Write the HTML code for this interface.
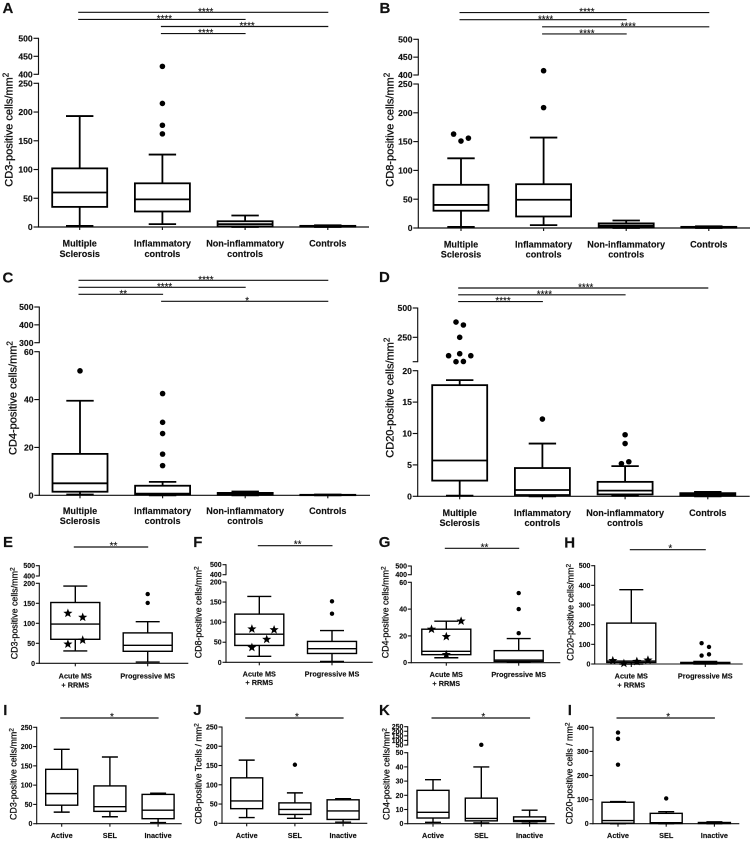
<!DOCTYPE html>
<html lang="en">
<head>
<meta charset="utf-8">
<title>Immune cell counts by diagnosis</title>
<style>
html,body{margin:0;padding:0;background:#fff;width:754px;height:841px;overflow:hidden}
svg{display:block;filter:blur(.3px);font-family:"Liberation Sans",Arial,sans-serif}
svg text{stroke:#111;stroke-width:.14}
.letter{font-size:15px;font-weight:bold;fill:#111}
.ytl{font-size:11px;fill:#111;stroke:#111;stroke-width:.32}
.yts{font-size:8.9px;fill:#111;stroke:#111;stroke-width:.28}
</style>
</head>
<body>
<svg id="figure" width="754" height="841" viewBox="0 0 754 841" xmlns="http://www.w3.org/2000/svg">
<g id="panel-a">
<text class="letter" x="2.5" y="12.9">A</text>
<text class="ytl" transform="translate(12.7,186.7) rotate(-90)">CD3-positive cells/mm<tspan dy="-4" font-size="8">2</tspan></text>
</g>
<g id="panel-b">
<text class="letter" x="379.5" y="12.9">B</text>
<text class="ytl" transform="translate(393.7,186.7) rotate(-90)">CD8-positive cells/mm<tspan dy="-4" font-size="8">2</tspan></text>
</g>
<g id="panel-c">
<text class="letter" x="2.5" y="282.5">C</text>
<text class="ytl" transform="translate(16.7,455) rotate(-90)">CD4-positive cells/mm<tspan dy="-4" font-size="8">2</tspan></text>
</g>
<g id="panel-d">
<text class="letter" x="379" y="281.9">D</text>
<text class="ytl" transform="translate(393.7,457.7) rotate(-90)">CD20-positive cells/mm<tspan dy="-4" font-size="8">2</tspan></text>
</g>
<g id="panel-e">
<text class="letter" x="3" y="546.9">E</text>
<text class="yts" transform="translate(17.3,659.3) rotate(-90)">CD3-positive cells/mm<tspan dy="-3" font-size="6.5">2</tspan></text>
</g>
<g id="panel-f">
<text class="letter" x="193.3" y="546.9">F</text>
<text class="yts" transform="translate(201.7,658.3) rotate(-90)">CD8-positive cells/mm<tspan dy="-3" font-size="6.5">2</tspan></text>
</g>
<g id="panel-g">
<text class="letter" x="378.7" y="546.9">G</text>
<text class="yts" transform="translate(388.7,658.3) rotate(-90)">CD4-positive cells/mm<tspan dy="-3" font-size="6.5">2</tspan></text>
</g>
<g id="panel-h">
<text class="letter" x="564.3" y="547.5">H</text>
<text class="yts" transform="translate(573.7,660.7) rotate(-90)">CD20-positive cells/mm<tspan dy="-3" font-size="6.5">2</tspan></text>
</g>
<g id="panel-i">
<text class="letter" x="3.3" y="714.9">I</text>
<text class="yts" transform="translate(16.7,820) rotate(-90)">CD3-positive cells/mm<tspan dy="-3" font-size="6.5">2</tspan></text>
</g>
<g id="panel-j">
<text class="letter" x="193.3" y="714.9">J</text>
<text class="yts" transform="translate(201.7,824.3) rotate(-90)">CD8-positive Tcells / mm<tspan dy="-3" font-size="6.5">2</tspan></text>
</g>
<g id="panel-k">
<text class="letter" x="379" y="714.9">K</text>
<text class="yts" transform="translate(389.3,820) rotate(-90)">CD4-positive cells/mm<tspan dy="-3" font-size="6.5">2</tspan></text>
</g>
<g id="panel-l">
<text class="letter" x="567.7" y="714.9">I</text>
<text class="yts" transform="translate(572.7,824.3) rotate(-90)">CD20-positive cells / mm<tspan dy="-3" font-size="6.5">2</tspan></text>
</g>
</svg>
<script>
// Category labels ("|" is a line break)
const diagnosisCategories = ['Multiple|Sclerosis', 'Inflammatory|controls', 'Non-inflammatory|controls', 'Controls'];
const msTypeCategories = ['Acute MS|+ RRMS', 'Progressive MS'];
const lesionCategories = ['Active', 'SEL', 'Inactive'];

// Panel A. Box stats are [min, q1, median, q3, max]
const aBoxes = [[2, 35, 60, 102, 193], [5, 27, 48, 76, 126], [0, 1, 5, 10, 20], [0, 0.5, 1, 2, 3]];
const aOutliers = [[], [162, 177, 215, 422], [], []];
const aSwarm = [[], [0, 0, 0, 0], [], []];
const aLowerTicks = [0, 50, 100, 150, 200, 250];
const aUpperTicks = [400, 450, 500];
const aSigFrom = [0, 0, 1, 1];
const aSigTo = [3, 2, 3, 2];
const aSigMarks = ['****', '****', '****', '****'];

// Panel B
const bBoxes = [[2, 30, 40, 75, 121], [5, 20, 49, 76, 157], [0, 1, 4, 8, 13], [0, 0.5, 1, 2, 3]];
const bOutliers = [[163, 151, 156], [209, 412], [], []];
const bSwarm = [[-2, 0, 2], [0, 0], [], []];
const bLowerTicks = [0, 50, 100, 150, 200, 250];
const bUpperTicks = [400, 450, 500];
const bSigFrom = [0, 0, 1, 1];
const bSigTo = [3, 2, 3, 2];
const bSigMarks = ['****', '****', '****', '****'];

// Panel C
const cBoxes = [[0.3, 1.5, 5, 17.3, 39.5], [0, 0.3, 0.7, 4, 5.6], [0, 0.2, 0.5, 1, 1.6], [0, 0.05, 0.1, 0.2, 0.3]];
const cOutliers = [[52], [12.4, 17.2, 25.8, 30.5, 42.5], [], []];
const cSwarm = [[0], [0, 0, 0, 0, 0], [], []];
const cLowerTicks = [0, 20, 40, 60];
const cUpperTicks = [300, 400, 500];
const cSigFrom = [0, 0, 0, 1];
const cSigTo = [3, 2, 1, 3];
const cSigMarks = ['****', '****', '**', '*'];

// Panel D
const dBoxes = [[0.1, 2.5, 5.7, 17.7, 18.5], [0, 0.2, 1, 4.5, 8.4], [0.1, 0.3, 0.9, 2.3, 4.8], [0, 0.1, 0.3, 0.5, 0.7]];
const dOutliers = [[380, 355, 250, 110, 93, 93, 42, 44], [12.3], [5.2, 5.5, 8.4, 9.8], []];
const dSwarm = [[-1, 1, 0, 0, -3, 3, -1, 1], [0], [-1, 1, 0, 0], []];
const dLowerTicks = [0, 5, 10, 15, 20];
const dUpperTicks = [42, 250, 500];
const dUpperLabels = ['', '250', '500'];
const dSigFrom = [0, 0, 0];
const dSigTo = [3, 2, 1];
const dSigMarks = ['****', '****', '****'];

// Panel E
const eBoxes = [[31, 60, 98, 152, 193], [3, 30, 45, 76, 104]];
const eOutliers = [[], [151, 173]];
const eSwarm = [[], [0, 0]];
const eStars = [125, 115, 48, 58];
const eStarSwarm = [-2, 2, -2, 2];
const eLowerTicks = [0, 50, 100, 150, 200];
const eUpperTicks = [400, 500];
const eSigMarks = ['**'];

// Panel F
const fBoxes = [[15, 42, 70, 120, 164], [2, 22, 34, 52, 79]];
const fOutliers = [[], [121, 152]];
const fSwarm = [[], [0, 0]];
const fStars = [83, 81, 57, 37];
const fStarSwarm = [-2, 4, 2, -2];
const fLowerTicks = [0, 50, 100, 150, 200];
const fUpperTicks = [400, 500];
const fSigMarks = ['**'];

// Panel G
const gBoxes = [[3.7, 6, 8.5, 25, 31], [0.3, 1, 2, 9, 18]];
const gOutliers = [[], [22, 40, 52]];
const gSwarm = [[], [0, 0, 0]];
const gStars = [25, 31, 19.5, 6];
const gStarSwarm = [-4, 4, 0, 0];
const gLowerTicks = [0, 20, 40, 60];
const gUpperTicks = [400, 500];
const gSigMarks = ['**'];

// Panel H
const hBoxes = [[0, 8, 15, 208, 378], [0, 2, 5, 8, 13]];
const hOutliers = [[], [43, 49, 87, 106]];
const hSwarm = [[], [-1, 1, 1, -1]];
const hStars = [17, 3, 13, 20];
const hStarSwarm = [-5, -2, 1.5, 4.5];
const hLowerTicks = [0, 100, 200, 300, 400, 500];
const hSigMarks = ['*'];

// Panel I
const iBoxes = [[30, 48, 78, 141, 193], [18, 32, 44, 98, 173], [3, 13, 35, 76, 79]];
const iLowerTicks = [0, 50, 100, 150, 200, 250];

// Panel J
const jBoxes = [[15, 38, 58, 118, 164], [13, 23, 36, 53, 79], [3, 10, 32, 61, 64]];
const jOutliers = [[], [152], []];
const jSwarm = [[], [0], []];
const jLowerTicks = [0, 50, 100, 150, 200, 250];

// Panel K
const kBoxes = [[1, 4, 8, 23.5, 31], [0.5, 2, 3.7, 18, 40], [0.3, 1.5, 2.2, 4.8, 9.5]];
const kOutliers = [[], [52], []];
const kSwarm = [[], [0], []];
const kLowerTicks = [0, 10, 20, 30, 40, 50];
const kUpperTicks = [50, 100, 150, 200, 250];

// Panel L (printed as a second "I")
const lBoxes = [[0, 2, 13, 89, 92], [0, 1, 4, 43, 50], [0, 1, 3, 5, 8]];
const lOutliers = [[245, 352, 378], [105], []];
const lSwarm = [[0, 0, 0], [0], []];
const lLowerTicks = [0, 100, 200, 300, 400];

const sharedSingleSig = ['*'];

const SVG_NS = 'http://www.w3.org/2000/svg';
function make(tag, parent, props) {
  const el = document.createElementNS(SVG_NS, tag);
  for (const k in props) el.setAttribute(k, props[k]);
  parent.appendChild(el);
  return el;
}
function slug(s) { return s.toLowerCase().replace(/[^a-z0-9]+/g, '-'); }
function starPoints(cx, cy, r) {
  const pts = [];
  for (let i = 0; i < 10; i++) {
    const a = -Math.PI / 2 + i * Math.PI / 5;
    const rad = i % 2 ? r * 0.42 : r;
    pts.push((cx + rad * Math.cos(a)).toFixed(2) + ',' + (cy + rad * Math.sin(a)).toFixed(2));
  }
  return pts.join(' ');
}

function drawPanel(id, d, L) {
  const root = document.getElementById('panel-' + id);
  const lowMax = Math.max(...d.lower);
  const hasUpper = !!(d.upper && d.upper.length);
  const upMin = hasUpper ? Math.min(...d.upper) : 0;
  const upMax = hasUpper ? Math.max(...d.upper) : 1;
  const yScale = v => {
    if (!hasUpper || v <= lowMax) return L.y0 + (L.yLow - L.y0) * v / lowMax;
    return L.yBreak + (L.yTop - L.yBreak) * (v - upMin) / (upMax - upMin);
  };
  const xScale = i => L.xFirst + i * L.xStep;
  const lineW = L.lw;
  const axisStroke = '#111';

  // y axis: lower and upper segments
  const lowerAxis = make('line', root, {x1: L.ax, x2: L.ax, y1: yScale(0) + .5, y2: yScale(lowMax) - .5, stroke: axisStroke, 'stroke-width': L.axisW});
  
  
  if (hasUpper) {
    const upperAxis = make('line', root, {x1: L.ax, x2: L.ax, y1: L.yBreak + .5, y2: L.yTop - .5, stroke: axisStroke, 'stroke-width': L.axisW});
    
    
  }

  // x axis
  const xAxis = make('line', root, {x1: L.ax - .5, x2: L.xEnd, y1: yScale(0), y2: yScale(0), stroke: axisStroke, 'stroke-width': L.axisW});
  
  

  // y ticks
  const tickSets = [{vals: d.lower, labels: d.lower, up: false}];
  if (hasUpper) tickSets.push({vals: d.upper, labels: d.upperLabels || d.upper, up: true});
  tickSets.forEach(set => {
    set.vals.forEach((v, i) => {
      const y = set.up && v <= lowMax ? L.yBreak : yScale(v);
      const tick = make('line', root, {x1: L.ax - L.tickLen, x2: L.ax, y1: y, y2: y, stroke: axisStroke, 'stroke-width': L.axisW});
      
      
      const label = make('text', root, {x: L.ax - L.tickLen - .8, y: y + L.tickFont * .36, 'text-anchor': 'end', 'font-size': L.tickFont, 'font-weight': 'bold', fill: '#111'});
      label.textContent = set.labels[i];
      
      
    });
  });

  // categories and x ticks
  d.categories.forEach((c, i) => {
    const x = xScale(i);
    const tick = make('line', root, {x1: x, x2: x, y1: yScale(0), y2: yScale(0) + L.xTickLen, stroke: axisStroke, 'stroke-width': L.axisW});
    
    
    c.split('|').forEach((line, j) => {
      const label = make('text', root, {x: x, y: L.catY + j * L.catGap, 'text-anchor': 'middle', 'font-size': L.catFont, 'font-weight': 'bold', fill: '#111'});
      label.textContent = line;
      
      
    });
  });

  // boxes
  d.boxes.forEach((s, i) => {
    const x = xScale(i);
    const name = slug(d.categories[i]);
    const [min, q1, med, q3, max] = s;
    const whisker = make('path', root, {
      d: 'M' + x + ' ' + yScale(q3) + 'V' + yScale(max) + 'M' + (x - L.capHalf) + ' ' + yScale(max) + 'H' + (x + L.capHalf) +
         'M' + x + ' ' + yScale(q1) + 'V' + yScale(min) + 'M' + (x - L.capHalf) + ' ' + yScale(min) + 'H' + (x + L.capHalf),
      fill: 'none', stroke: '#000', 'stroke-width': lineW
    });
    
    
    const box = make('rect', root, {x: x - L.boxHalf, y: yScale(q3), width: L.boxHalf * 2, height: Math.max(0, yScale(q1) - yScale(q3)), fill: '#fff', stroke: '#000', 'stroke-width': lineW});
    
    
    const median = make('line', root, {x1: x - L.boxHalf, x2: x + L.boxHalf, y1: yScale(med), y2: yScale(med), stroke: '#000', 'stroke-width': lineW});
    
    
  });

  // outliers
  (d.outliers || []).forEach((vals, i) => {
    vals.forEach((v, j) => {
      const slot = d.swarm ? d.swarm[i][j] : 0;
      const dot = make('circle', root, {cx: xScale(i) + slot * L.slot, cy: yScale(v), r: L.dot, fill: '#000'});
      
      
    });
  });

  // stars marking the acute MS cases
  (d.stars || []).forEach((v, j) => {
    const star = make('polygon', root, {points: starPoints(xScale(0) + d.starSwarm[j] * L.slot, yScale(v), L.star), fill: '#000'});
    
    
  });

  // significance brackets
  d.sigMarks.forEach((mark, i) => {
    const from = d.sigFrom ? d.sigFrom[i] : 0;
    const to = d.sigTo ? d.sigTo[i] : d.categories.length - 1;
    const y = L.sigTop + i * L.sigGap;
    const bar = make('line', root, {x1: xScale(from) - 1.5, x2: xScale(to) + .5, y1: y, y2: y, stroke: '#111', 'stroke-width': 1.15});
    
    
    const txt = make('text', root, {x: (xScale(from) + xScale(to)) / 2 + 2, y: y + L.sigDy, 'text-anchor': 'middle', 'font-size': L.sigFont, fill: '#111'});
    txt.textContent = mark;
    
    
  });
}

const bigStyle = {lw: 1.8, axisW: 1.15, tickLen: 5, xTickLen: 3, tickFont: 8.6, catFont: 9.1, catGap: 10.2, boxHalf: 27.5, capHalf: 13.7, dot: 2.8, slot: 3.7, star: 4.5, sigGap: 7.1, sigDy: 2.6, sigFont: 9.8};
const midStyle = {lw: 1.4, axisW: 1.1, tickLen: 3.5, xTickLen: 3, tickFont: 7, catFont: 7.3, catGap: 8.8, boxHalf: 24.5, capHalf: 12, dot: 2.2, slot: 3.7, star: 4.8, sigGap: 0, sigDy: 2, sigFont: 10};
const lowStyle = Object.assign({}, midStyle, {boxHalf: 16, capHalf: 8, catFont: 7.3});

drawPanel('a', {categories: diagnosisCategories, boxes: aBoxes, outliers: aOutliers, swarm: aSwarm, lower: aLowerTicks, upper: aUpperTicks, sigFrom: aSigFrom, sigTo: aSigTo, sigMarks: aSigMarks},
  Object.assign({}, bigStyle, {ax: 38.5, y0: 227, yLow: 83.3, yBreak: 74.3, yTop: 38.3, xFirst: 79.7, xStep: 82.7, xEnd: 369, catY: 246.6, sigTop: 12.3}));
drawPanel('b', {categories: diagnosisCategories, boxes: bBoxes, outliers: bOutliers, swarm: bSwarm, lower: bLowerTicks, upper: bUpperTicks, sigFrom: bSigFrom, sigTo: bSigTo, sigMarks: bSigMarks},
  Object.assign({}, bigStyle, {ax: 418.3, y0: 228, yLow: 84, yBreak: 75, yTop: 39.3, xFirst: 461, xStep: 82.6, xEnd: 750, catY: 247.3, sigTop: 12.6}));
drawPanel('c', {categories: diagnosisCategories, boxes: cBoxes, outliers: cOutliers, swarm: cSwarm, lower: cLowerTicks, upper: cUpperTicks, sigFrom: cSigFrom, sigTo: cSigTo, sigMarks: cSigMarks},
  Object.assign({}, bigStyle, {ax: 39.3, y0: 495.3, yLow: 351.7, yBreak: 342.7, yTop: 307, xFirst: 80, xStep: 82.6, xEnd: 370, catY: 513.8, sigTop: 280.3, sigGap: 7}));
drawPanel('d', {categories: diagnosisCategories, boxes: dBoxes, outliers: dOutliers, swarm: dSwarm, lower: dLowerTicks, upper: dUpperTicks, upperLabels: dUpperLabels, sigFrom: dSigFrom, sigTo: dSigTo, sigMarks: dSigMarks},
  Object.assign({}, bigStyle, {ax: 417.7, y0: 496.3, yLow: 370.7, yBreak: 361.7, yTop: 308, xFirst: 459.7, xStep: 82.7, xEnd: 749.7, catY: 516, sigTop: 288, sigGap: 6.8}));

drawPanel('e', {categories: msTypeCategories, boxes: eBoxes, outliers: eOutliers, swarm: eSwarm, stars: eStars, starSwarm: eStarSwarm, lower: eLowerTicks, upper: eUpperTicks, sigMarks: eSigMarks},
  Object.assign({}, midStyle, {ax: 39.3, y0: 663.3, yLow: 583.3, yBreak: 576, yTop: 565.7, xFirst: 75.3, xStep: 72.4, xEnd: 188.3, catY: 678.5, sigTop: 547}));
drawPanel('f', {categories: msTypeCategories, boxes: fBoxes, outliers: fOutliers, swarm: fSwarm, stars: fStars, starSwarm: fStarSwarm, lower: fLowerTicks, upper: fUpperTicks, sigMarks: fSigMarks},
  Object.assign({}, midStyle, {ax: 226, y0: 662.3, yLow: 582, yBreak: 574.7, yTop: 564.7, xFirst: 259.3, xStep: 72.7, xEnd: 372.7, catY: 676.3, sigTop: 545.7}));
drawPanel('g', {categories: msTypeCategories, boxes: gBoxes, outliers: gOutliers, swarm: gSwarm, stars: gStars, starSwarm: gStarSwarm, lower: gLowerTicks, upper: gUpperTicks, sigMarks: gSigMarks},
  Object.assign({}, midStyle, {ax: 411.3, y0: 662.7, yLow: 582.3, yBreak: 574.7, yTop: 566, xFirst: 446.3, xStep: 72.4, xEnd: 560.3, catY: 677, sigTop: 548.3}));
drawPanel('h', {categories: msTypeCategories, boxes: hBoxes, outliers: hOutliers, swarm: hSwarm, stars: hStars, starSwarm: hStarSwarm, lower: hLowerTicks, sigMarks: hSigMarks},
  Object.assign({}, midStyle, {ax: 594.7, y0: 664, yLow: 565.7, xFirst: 631.3, xStep: 74, xEnd: 742.7, catY: 678.5, sigTop: 549.7}));

drawPanel('i', {categories: lesionCategories, boxes: iBoxes, lower: iLowerTicks, sigMarks: sharedSingleSig},
  Object.assign({}, lowStyle, {ax: 36.7, y0: 823.7, yLow: 727.3, xFirst: 61.7, xStep: 48.2, xEnd: 181.7, catY: 838, sigTop: 718}));
drawPanel('j', {categories: lesionCategories, boxes: jBoxes, outliers: jOutliers, swarm: jSwarm, lower: jLowerTicks, sigMarks: sharedSingleSig},
  Object.assign({}, lowStyle, {ax: 222, y0: 823.3, yLow: 727, xFirst: 246.7, xStep: 48.2, xEnd: 367.3, catY: 838, sigTop: 718}));
drawPanel('k', {categories: lesionCategories, boxes: kBoxes, outliers: kOutliers, swarm: kSwarm, lower: kLowerTicks, upper: kUpperTicks, sigMarks: sharedSingleSig},
  Object.assign({}, lowStyle, {ax: 407.7, y0: 823.7, yLow: 752.7, yBreak: 745, yTop: 726.7, xFirst: 433, xStep: 48.3, xEnd: 554.7, catY: 838, sigTop: 718}));
drawPanel('l', {categories: lesionCategories, boxes: lBoxes, outliers: lOutliers, swarm: lSwarm, lower: lLowerTicks, sigMarks: sharedSingleSig},
  Object.assign({}, lowStyle, {ax: 593, y0: 823.7, yLow: 727.3, xFirst: 618, xStep: 48.2, xEnd: 739.3, catY: 838, sigTop: 718}));
</script>
</body>
</html>
